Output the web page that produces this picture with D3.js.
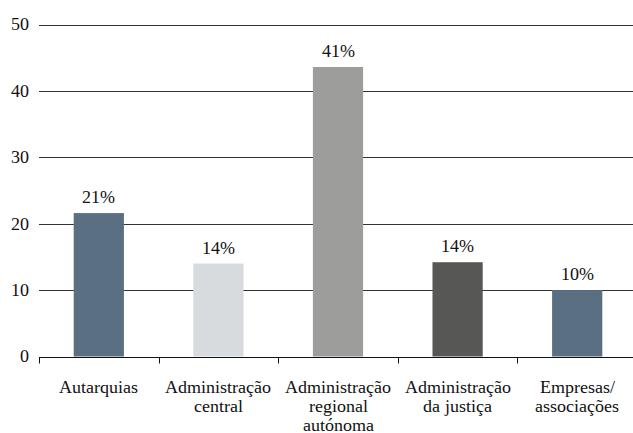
<!DOCTYPE html>
<html>
<head>
<meta charset="utf-8">
<script src="https://cdn.jsdelivr.net/npm/d3@7"></script>
<style>
  @font-face {
    font-family: 'RefSerif';
    src: local('Liberation Serif'), local('LiberationSerif'), local('Liberation Serif Regular'), local('LiberationSerif-Regular');
  }
  html, body { margin: 0; padding: 0; background: #fff; }
</style>
</head>
<body>
<div id="chart"></div>
<script>
const categories = ['Autarquias', 'Administração\ncentral', 'Administração\nregional\nautónoma', 'Administração\nda justiça', 'Empresas/\nassociações'];
const values = [21.6, 14.0, 43.6, 14.2, 10.0];
const valueLabels = ['21%', '14%', '41%', '14%', '10%'];
const yTicks = [0, 10, 20, 30, 40, 50];
const barColors = ['#5b6f83', '#d7dbde', '#9d9d9b', '#575755', '#5b6f83'];

const FONT = "RefSerif, 'Liberation Serif', Tinos, 'Times New Roman', serif";
const width = 633, height = 433;
const margin = { top: 24.5, right: -4, bottom: 76, left: 39 };

function draw() {
    d3.select('#chart').html('');

    const svg = d3.select('#chart').append('svg')
        .attr('width', width)
        .attr('height', height)
        .style('font-family', FONT)
        .style('display', 'block');

    const x = d3.scaleBand()
        .domain(categories)
        .range([margin.left, width - margin.right])
        .paddingInner(0.58)
        .paddingOuter(0.29);

    const xOuter = d3.scaleBand()
        .domain(categories)
        .range([margin.left, width - margin.right]);

    const y = d3.scaleLinear()
        .domain([0, 50])
        .range([height - margin.bottom - 0.5, margin.top]);

    // gridlines
    svg.append('g')
        .selectAll('line')
        .data(yTicks.filter(d => d > 0))
        .join('line')
        .attr('x1', margin.left)
        .attr('x2', width)
        .attr('y1', d => Math.round(y(d)) + 0.5)
        .attr('y2', d => Math.round(y(d)) + 0.5)
        .attr('stroke', '#333')
        .attr('stroke-width', 1);

    // y tick labels
    svg.append('g')
        .selectAll('text')
        .data(yTicks)
        .join('text')
        .attr('x', 29)
        .attr('y', d => y(d))
        .attr('dy', '0.33em')
        .attr('text-anchor', 'end')
        .style('font-family', FONT)
        .attr('font-size', 18)
        .attr('fill', '#111')
        .text(d => d);

    // bars
    svg.append('g')
        .selectAll('rect')
        .data(values)
        .join('rect')
        .attr('x', (d, i) => x(categories[i]))
        .attr('width', x.bandwidth())
        .attr('y', d => y(d))
        .attr('height', d => y(0) - y(d))
        .attr('fill', (d, i) => barColors[i]);

    // value labels
    svg.append('g')
        .selectAll('text')
        .data(values)
        .join('text')
        .attr('x', (d, i) => x(categories[i]) + x.bandwidth() / 2)
        .attr('y', d => y(d) - 10)
        .attr('text-anchor', 'middle')
        .style('font-family', FONT)
        .attr('font-size', 18)
        .attr('fill', '#111')
        .text((d, i) => valueLabels[i]);

    // x axis line and boundary ticks
    const axisY = Math.round(y(0)) + 0.5;
    const axis = svg.append('g');
    axis.append('line')
        .attr('x1', margin.left)
        .attr('x2', width)
        .attr('y1', axisY)
        .attr('y2', axisY)
        .attr('stroke', '#111');
    axis.selectAll('line.tick')
        .data(categories)
        .join('line')
        .attr('class', 'tick')
        .attr('x1', d => Math.round(xOuter(d)) + 0.5)
        .attr('x2', d => Math.round(xOuter(d)) + 0.5)
        .attr('y1', axisY)
        .attr('y2', axisY + 6)
        .attr('stroke', '#111');

    // category labels
    axis.selectAll('text')
        .data(categories)
        .join('text')
        .attr('text-anchor', 'middle')
        .style('font-family', FONT)
        .attr('font-size', 18)
        .attr('fill', '#111')
        .each(function (d) {
            const cx = xOuter(d) + xOuter.bandwidth() / 2;
            d.split('\n').forEach((line, i) => {
                d3.select(this).append('tspan')
                    .attr('x', cx)
                    .attr('y', axisY + 35 + i * 19)
                    .text(line);
            });
        });
}

draw();
// local fonts can resolve late; redraw once they are ready
if (document.fonts) {
    document.fonts.load('18px RefSerif', 'Administração 0123456789%').then(draw).catch(() => {});
    document.fonts.ready.then(draw);
}
setTimeout(draw, 30);
</script>
</body>
</html>
